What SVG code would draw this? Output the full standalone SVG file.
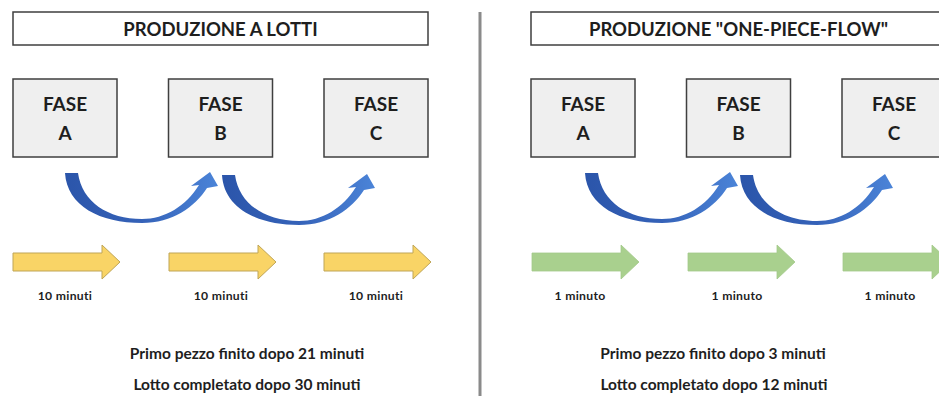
<svg xmlns="http://www.w3.org/2000/svg" width="939" height="396" viewBox="0 0 939 396">
  <style>
    .title-box { fill: #ffffff; stroke: #3f3f3f; stroke-width: 1.5; }
    .phase-box { fill: #efefef; stroke: #3f3f3f; stroke-width: 1.5; }
    text { font-family: Lato, "Open Sans", "Liberation Sans", sans-serif; font-weight: bold; fill: #1e1e1e; text-anchor: middle; }
    .title { font-size: 18.5px; }
    .phase { font-size: 19px; }
    .time { font-size: 12.2px; letter-spacing: 0.3px; }
    .summary { font-size: 15.5px; }
    .batch-arrow { fill: #f9d466; stroke: #bfa557; stroke-width: 1; }
    .flow-arrow { fill: #a9d08e; stroke: #a3c98a; stroke-width: 0.8; }
    .curve-arrow { fill: url(#curveFill); }
  </style>
  <defs>
    <linearGradient id="curveFill" x1="0" y1="0" x2="1" y2="0">
      <stop offset="0" stop-color="#2b55aa"/>
      <stop offset="0.5" stop-color="#3562b8"/>
      <stop offset="1" stop-color="#4b84d8"/>
    </linearGradient>
    <!-- curved transfer arrow between two phases -->
    <path id="curve" class="curve-arrow" d="M65,173 C67,206 100,223 142,223 C172,223 195,207 207,188 L218,186 L210,172 L191,186 L199,185 C186,206 165,219 142,219 C108,219 82,202 78,173 Z"/>
    <!-- straight block arrow for a processing time -->
    <path id="block" d="M13,253 L102,253 L102,245 L120,262 L102,279 L102,271 L13,271 Z"/>
  </defs>

  <!-- panel divider -->
  <line x1="480" y1="12" x2="480" y2="396" stroke="#8a8a8a" stroke-width="3"/>

  <!-- batch production panel -->
  <g id="title-batch">
    <rect class="title-box" x="13" y="12" width="415" height="33"/>
    <text class="title" x="220.5" y="36">PRODUZIONE A LOTTI</text>
  </g>
  <g id="batch-phase-a">
    <rect class="phase-box" x="13" y="79" width="104" height="78"/>
    <text class="phase" x="65" y="111">FASE</text>
    <text class="phase" x="65" y="140">A</text>
  </g>
  <g id="batch-phase-b">
    <rect class="phase-box" x="168.5" y="79" width="104" height="78"/>
    <text class="phase" x="220.5" y="111">FASE</text>
    <text class="phase" x="220.5" y="140">B</text>
  </g>
  <g id="batch-phase-c">
    <rect class="phase-box" x="324" y="79" width="104" height="78"/>
    <text class="phase" x="376" y="111">FASE</text>
    <text class="phase" x="376" y="140">C</text>
  </g>

  <!-- one-piece-flow panel -->
  <g id="title-flow">
    <rect class="title-box" x="531" y="12" width="415" height="33"/>
    <text class="title" x="738.5" y="36">PRODUZIONE "ONE-PIECE-FLOW"</text>
  </g>
  <g id="flow-phase-a">
    <rect class="phase-box" x="531" y="79" width="104" height="78"/>
    <text class="phase" x="583" y="111">FASE</text>
    <text class="phase" x="583" y="140">A</text>
  </g>
  <g id="flow-phase-b">
    <rect class="phase-box" x="686.5" y="79" width="104" height="78"/>
    <text class="phase" x="738.5" y="111">FASE</text>
    <text class="phase" x="738.5" y="140">B</text>
  </g>
  <g id="flow-phase-c">
    <rect class="phase-box" x="842" y="79" width="104" height="78"/>
    <text class="phase" x="894" y="111">FASE</text>
    <text class="phase" x="894" y="140">C</text>
  </g>

  <!-- connectors -->
  <g id="connectors">
    <use href="#curve"/>
    <use href="#curve" transform="translate(157,2)"/>
    <use href="#curve" transform="translate(520,0)"/>
    <use href="#curve" transform="translate(675,2)"/>
  </g>

  <!-- processing-time arrows -->
  <g id="batch-times">
    <use href="#block" class="batch-arrow"/>
    <use href="#block" class="batch-arrow" transform="translate(156,0)"/>
    <use href="#block" class="batch-arrow" transform="translate(311,0)"/>
    <text class="time" x="65" y="300">10 minuti</text>
    <text class="time" x="221" y="300">10 minuti</text>
    <text class="time" x="376" y="300">10 minuti</text>
  </g>
  <g id="flow-times">
    <use href="#block" class="flow-arrow" transform="translate(519,0)"/>
    <use href="#block" class="flow-arrow" transform="translate(675,0)"/>
    <use href="#block" class="flow-arrow" transform="translate(830,0)"/>
    <text class="time" x="580" y="300">1 minuto</text>
    <text class="time" x="737" y="300">1 minuto</text>
    <text class="time" x="890" y="300">1 minuto</text>
  </g>

  <!-- results -->
  <g id="batch-summary">
    <text class="summary" x="247" y="359">Primo pezzo finito dopo 21 minuti</text>
    <text class="summary" x="247" y="390">Lotto completato dopo 30 minuti</text>
  </g>
  <g id="flow-summary">
    <text class="summary" x="713" y="359">Primo pezzo finito dopo 3 minuti</text>
    <text class="summary" x="714" y="390">Lotto completato dopo 12 minuti</text>
  </g>
</svg>
